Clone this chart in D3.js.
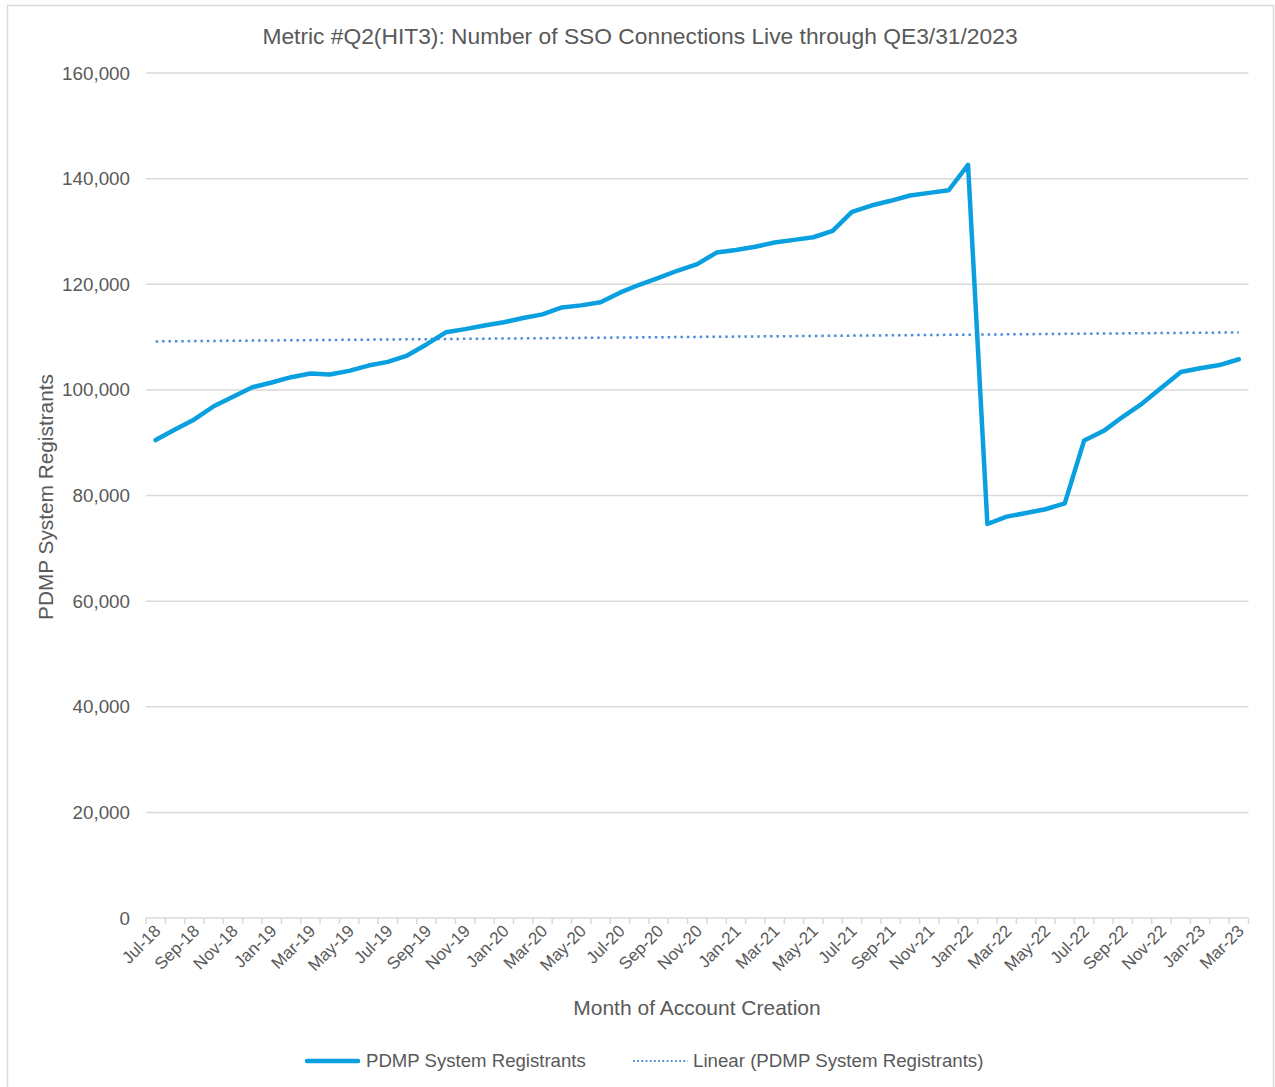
<!DOCTYPE html>
<html>
<head>
<meta charset="utf-8">
<script src="https://cdn.jsdelivr.net/npm/d3@7"></script>
<style>
  body { margin: 0; background: #fff; }
  text { font-family: "Liberation Sans", Arial, sans-serif; fill: #595959; }
</style>
</head>
<body>
<svg width="1275" height="1087"></svg>
<script>
// month labels, Jul-18 .. Mar-23
var months = ['Jul-18','Aug-18','Sep-18','Oct-18','Nov-18','Dec-18',
  'Jan-19','Feb-19','Mar-19','Apr-19','May-19','Jun-19','Jul-19','Aug-19','Sep-19','Oct-19','Nov-19','Dec-19',
  'Jan-20','Feb-20','Mar-20','Apr-20','May-20','Jun-20','Jul-20','Aug-20','Sep-20','Oct-20','Nov-20','Dec-20',
  'Jan-21','Feb-21','Mar-21','Apr-21','May-21','Jun-21','Jul-21','Aug-21','Sep-21','Oct-21','Nov-21','Dec-21',
  'Jan-22','Feb-22','Mar-22','Apr-22','May-22','Jun-22','Jul-22','Aug-22','Sep-22','Oct-22','Nov-22','Dec-22',
  'Jan-23','Feb-23','Mar-23'];

var registrants = [90500, 92500, 94400, 96900, 98700, 100500,
  101400, 102400, 103100, 102900, 103600, 104600, 105300, 106500, 108600, 110900, 111500, 112200,
  112800, 113600, 114300, 115600, 116000, 116600, 118400, 119900, 121200, 122600, 123800, 126000,
  126500, 127100, 127900, 128400, 128900, 130100, 133700, 134900, 135800, 136800, 137300, 137800,
  142600, 74600, 76000, 76700, 77400, 78500, 90400, 92200, 94900, 97400, 100400, 103400,
  104100, 104700, 105800];

var yTicks = [0, 20000, 40000, 60000, 80000, 100000, 120000, 140000, 160000];

var svg = d3.select('svg');
var margin = {left: 146, right: 1248.5, top: 73, bottom: 918};

// outer chart border
svg.append('rect')
    .attr('x', 7.5).attr('y', 5.5)
    .attr('width', 1266).attr('height', 1100)
    .attr('fill', 'none')
    .attr('stroke', '#d9d9d9')
    .attr('stroke-width', 1.5);

var x = d3.scaleBand()
    .domain(months)
    .range([margin.left, margin.right]);

var y = d3.scaleLinear()
    .domain([0, 160000])
    .range([margin.bottom, margin.top]);

// gridlines
svg.append('g')
    .selectAll('line')
    .data(yTicks.slice(1))
    .enter()
    .append('line')
    .attr('x1', margin.left).attr('x2', margin.right)
    .attr('y1', function(d) { return y(d); })
    .attr('y2', function(d) { return y(d); })
    .attr('stroke', '#d9d9d9')
    .attr('stroke-width', 1.5);

// y axis labels
var yAxis = svg.append('g')
    .attr('transform', 'translate(' + margin.left + ',0)')
    .call(d3.axisLeft(y).tickValues(yTicks).tickSize(0).tickPadding(16)
        .tickFormat(d3.format(',')));
yAxis.select('.domain').remove();
yAxis.selectAll('text')
    .style('font-size', '18.8px')
    .attr('fill', '#595959');

// x axis: tick at every month boundary, labels every 2 months
var boundaries = months.map(function(m) { return x(m); }).concat([margin.right]);
var xg = svg.append('g');
xg.append('line')
    .attr('x1', margin.left).attr('x2', margin.right)
    .attr('y1', margin.bottom).attr('y2', margin.bottom)
    .attr('stroke', '#d9d9d9').attr('stroke-width', 1.5);
xg.selectAll('.tick-mark')
    .data(boundaries)
    .enter()
    .append('line')
    .attr('class', 'tick-mark')
    .attr('x1', function(d) { return d; })
    .attr('x2', function(d) { return d; })
    .attr('y1', margin.bottom).attr('y2', margin.bottom + 6)
    .attr('stroke', '#d9d9d9').attr('stroke-width', 1.5);
xg.selectAll('.xlab')
    .data(months.filter(function(m, i) { return i % 2 === 0; }))
    .enter()
    .append('text')
    .attr('class', 'xlab')
    .attr('text-anchor', 'end')
    .style('font-size', '17px')
    .attr('transform', function(d) {
        var cx = x(d) + x.bandwidth() / 2 + 6;
        return 'translate(' + cx + ',' + (margin.bottom + 14) + ') rotate(-45)';
    })
    .text(function(d) { return d; });

// linear trendline (least squares over month index)
var n = registrants.length;
var mx = d3.mean(registrants, function(d, i) { return i; });
var my = d3.mean(registrants);
var sxy = d3.sum(registrants, function(d, i) { return (i - mx) * (d - my); });
var sxx = d3.sum(registrants, function(d, i) { return (i - mx) * (i - mx); });
var slope = sxy / sxx;
var icpt = my - slope * mx;

var cxOf = function(i) { return x(months[i]) + x.bandwidth() / 2; };

svg.append('line')
    .attr('x1', cxOf(0)).attr('x2', cxOf(n - 1))
    .attr('y1', y(icpt)).attr('y2', y(icpt + slope * (n - 1)))
    .attr('stroke', '#4a8fd8')
    .attr('stroke-width', 2.5)
    .attr('stroke-dasharray', '2.5,3.9');

// data line
var line = d3.line()
    .x(function(d, i) { return cxOf(i); })
    .y(function(d) { return y(d); });

svg.append('path')
    .datum(registrants)
    .attr('d', line)
    .attr('fill', 'none')
    .attr('stroke', '#0aa0e0')
    .attr('stroke-width', 4.5)
    .attr('stroke-linejoin', 'round')
    .attr('stroke-linecap', 'round');

// title
svg.append('text')
    .attr('x', 640).attr('y', 44)
    .attr('text-anchor', 'middle')
    .style('font-size', '22.8px')
    .text('Metric #Q2(HIT3): Number of SSO Connections Live through QE3/31/2023');

// axis titles
svg.append('text')
    .attr('transform', 'translate(53,497) rotate(-90)')
    .attr('text-anchor', 'middle')
    .style('font-size', '20.8px')
    .text('PDMP System Registrants');

svg.append('text')
    .attr('x', 697).attr('y', 1015)
    .attr('text-anchor', 'middle')
    .style('font-size', '21px')
    .text('Month of Account Creation');

// legend
var lg = svg.append('g');
lg.append('line')
    .attr('x1', 307).attr('x2', 358).attr('y1', 1061).attr('y2', 1061)
    .attr('stroke', '#0aa0e0').attr('stroke-width', 4.5)
    .attr('stroke-linecap', 'round');
lg.append('text')
    .attr('x', 366).attr('y', 1067)
    .style('font-size', '18.6px')
    .text('PDMP System Registrants');
lg.append('line')
    .attr('x1', 633).attr('x2', 688).attr('y1', 1061).attr('y2', 1061)
    .attr('stroke', '#4a8fd8').attr('stroke-width', 1.8)
    .attr('stroke-dasharray', '1.8,2.4');
lg.append('text')
    .attr('x', 693).attr('y', 1067)
    .style('font-size', '18.7px')
    .text('Linear (PDMP System Registrants)');
</script>
</body>
</html>
